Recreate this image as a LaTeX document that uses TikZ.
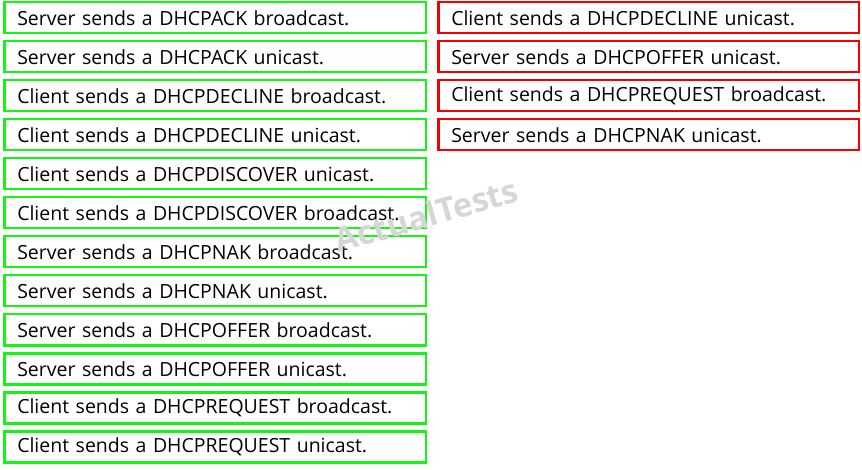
\documentclass[tikz,border=0pt]{standalone}
\usepackage{fontspec}
\setmainfont{Open Sans}
\usepackage{tikz}
\usetikzlibrary{positioning}

\definecolor{boxgreen}{RGB}{20,245,20}
\definecolor{boxred}{RGB}{245,0,0}

\begin{document}
\begin{tikzpicture}[
    x=1pt,
    y=-1pt,
    font=\fontsize{19.5}{22}\selectfont,
    answer/.style={
        draw,
        line width=2.5pt,
        anchor=north west,
        align=left,
        inner xsep=13pt,
        inner ysep=0pt,
        minimum height=31pt
    },
    greenbox/.style={answer, draw=boxgreen, text width=395.5pt},
    redbox/.style={answer, draw=boxred, text width=394.5pt}
]

\useasboundingbox (0,0) rectangle (862,470);

% Lewa kolumna
\node[greenbox] (ackb) at (3,1)
    {Server sends a DHCPACK broadcast.};
\node[greenbox, below=5.5pt of ackb.south west, anchor=north west] (acku)
    {Server sends a DHCPACK unicast.};
\node[greenbox, below=5.5pt of acku.south west, anchor=north west] (declb)
    {Client sends a DHCPDECLINE broadcast.};
\node[greenbox, below=5.5pt of declb.south west, anchor=north west] (declu)
    {Client sends a DHCPDECLINE unicast.};
\node[greenbox, below=5.5pt of declu.south west, anchor=north west] (discu)
    {Client sends a DHCPDISCOVER unicast.};
\node[greenbox, below=5.5pt of discu.south west, anchor=north west] (discb)
    {Client sends a DHCPDISCOVER broadcast.};
\node[greenbox, below=5.5pt of discb.south west, anchor=north west] (nakb)
    {Server sends a DHCPNAK broadcast.};
\node[greenbox, below=5.5pt of nakb.south west, anchor=north west] (naku)
    {Server sends a DHCPNAK unicast.};
\node[greenbox, below=5.5pt of naku.south west, anchor=north west] (offb)
    {Server sends a DHCPOFFER broadcast.};
\node[greenbox, below=5.5pt of offb.south west, anchor=north west] (offu)
    {Server sends a DHCPOFFER unicast.};
\node[greenbox, below=5.5pt of offu.south west, anchor=north west] (reqb)
    {Client sends a DHCPREQUEST broadcast.};
\node[greenbox, below=5.5pt of reqb.south west, anchor=north west] (requ)
    {Client sends a DHCPREQUEST unicast.};

% Prawa kolumna
\node[redbox] (ansdecl) at (437,1)
    {Client sends a DHCPDECLINE unicast.};
\node[redbox, below=5.5pt of ansdecl.south west, anchor=north west] (ansoff)
    {Server sends a DHCPOFFER unicast.};
\node[redbox, below=5.5pt of ansoff.south west, anchor=north west] (ansreq)
    {Client sends a DHCPREQUEST broadcast.};
\node[redbox, below=5.5pt of ansreq.south west, anchor=north west] (ansnak)
    {Server sends a DHCPNAK unicast.};

% Znak wodny
\node[text=black!16, rotate=16, font=\fontsize{33}{36}\selectfont\bfseries] (mark) at (426,215)
    {ActualTests};

\end{tikzpicture}
\end{document}
